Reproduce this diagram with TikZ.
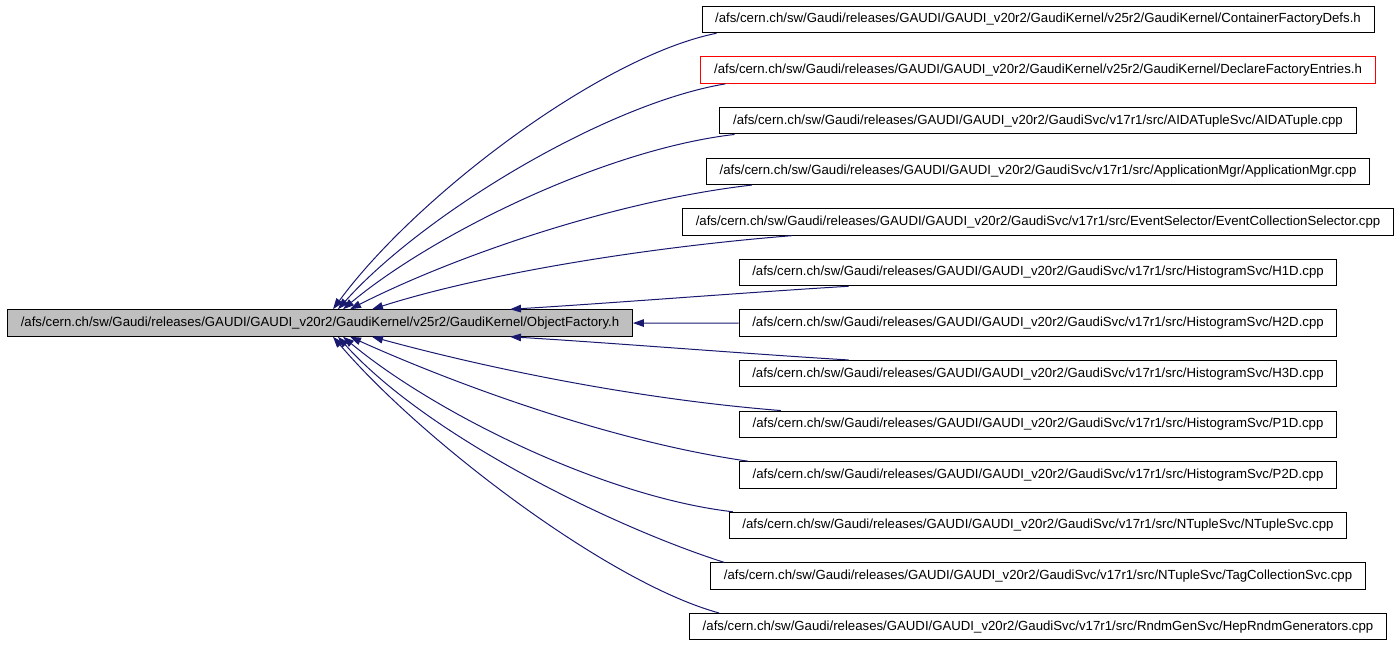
\documentclass[tikz,border=0pt]{standalone}
\usepackage{fontspec}
\setmainfont{Liberation Sans}
\usetikzlibrary{arrows.meta,calc}
\definecolor{depblue}{HTML}{191970}
\begin{document}
\begin{tikzpicture}
  [x=0.5pt,y=-0.5pt,every node/.style={draw,line width=0.5pt,inner xsep=6.6pt,inner ysep=0pt,minimum height=13.25pt,font=\fontsize{6.6}{8}\selectfont},
   dep/.style={depblue,line width=0.5pt,-{Triangle[length=5.5pt,width=3.8pt]}}]
  \useasboundingbox (0,0) rectangle (1400,645);
  \node (main)[fill=black!25] at (320,323) {/afs/cern.ch/sw/Gaudi/releases/GAUDI/GAUDI\_v20r2/GaudiKernel/v25r2/GaudiKernel/ObjectFactory.h};
  \node (b1) at (1038,19.5) {/afs/cern.ch/sw/Gaudi/releases/GAUDI/GAUDI\_v20r2/GaudiKernel/v25r2/GaudiKernel/ContainerFactoryDefs.h};
  \node (b2)[draw=red] at (1038,70.1) {/afs/cern.ch/sw/Gaudi/releases/GAUDI/GAUDI\_v20r2/GaudiKernel/v25r2/GaudiKernel/DeclareFactoryEntries.h};
  \node (b3) at (1038,120.7) {/afs/cern.ch/sw/Gaudi/releases/GAUDI/GAUDI\_v20r2/GaudiSvc/v17r1/src/AIDATupleSvc/AIDATuple.cpp};
  \node (b4) at (1038,171.3) {/afs/cern.ch/sw/Gaudi/releases/GAUDI/GAUDI\_v20r2/GaudiSvc/v17r1/src/ApplicationMgr/ApplicationMgr.cpp};
  \node (b5) at (1038,221.9) {/afs/cern.ch/sw/Gaudi/releases/GAUDI/GAUDI\_v20r2/GaudiSvc/v17r1/src/EventSelector/EventCollectionSelector.cpp};
  \node (b6) at (1038,272.5) {/afs/cern.ch/sw/Gaudi/releases/GAUDI/GAUDI\_v20r2/GaudiSvc/v17r1/src/HistogramSvc/H1D.cpp};
  \node (b7) at (1038,323.1) {/afs/cern.ch/sw/Gaudi/releases/GAUDI/GAUDI\_v20r2/GaudiSvc/v17r1/src/HistogramSvc/H2D.cpp};
  \node (b8) at (1038,373.7) {/afs/cern.ch/sw/Gaudi/releases/GAUDI/GAUDI\_v20r2/GaudiSvc/v17r1/src/HistogramSvc/H3D.cpp};
  \node (b9) at (1038,424.3) {/afs/cern.ch/sw/Gaudi/releases/GAUDI/GAUDI\_v20r2/GaudiSvc/v17r1/src/HistogramSvc/P1D.cpp};
  \node (b10) at (1038,474.9) {/afs/cern.ch/sw/Gaudi/releases/GAUDI/GAUDI\_v20r2/GaudiSvc/v17r1/src/HistogramSvc/P2D.cpp};
  \node (b11) at (1038,525.5) {/afs/cern.ch/sw/Gaudi/releases/GAUDI/GAUDI\_v20r2/GaudiSvc/v17r1/src/NTupleSvc/NTupleSvc.cpp};
  \node (b12) at (1038,576.1) {/afs/cern.ch/sw/Gaudi/releases/GAUDI/GAUDI\_v20r2/GaudiSvc/v17r1/src/NTupleSvc/TagCollectionSvc.cpp};
  \node (b13) at (1038,626.7) {/afs/cern.ch/sw/Gaudi/releases/GAUDI/GAUDI\_v20r2/GaudiSvc/v17r1/src/RndmGenSvc/HepRndmGenerators.cpp};

  \foreach \from/\fa/\fx/\ta/\tx/\ca/\cb in {b1/south west/15/north/13/{-115,23}/{84,-114},
      b2/south west/25/north/18/{-120,20}/{85,-95},b3/south west/15/north/23/{-130,15}/{90,-75},
      b4/south west/46/north/30/{-140,16}/{100,-51},b5/south west/110/north/52/{-150,12}/{110,-35},
      b6/south west/110/north/190/{-100,6}/{100,-6},b8/north west/110/south/190/{-100,-6}/{100,6},
      b9/north west/42/south/52/{-150,-12}/{110,30},b10/north west/9/south/30/{-140,-20}/{100,45},
      b11/north west/4/south/23/{-130,-15}/{90,75},b12/north west/14/south/18/{-110,-35}/{90,100},
      b13/north west/30/south/13/{-110,-30}/{90,105}}
    \draw[dep] ($(\from.\fa)+(\fx,0)$) .. controls +(\ca) and +(\cb) .. ($(main.\ta)+(\tx,0)$);
  \draw[dep] (b7) -- (main);
\end{tikzpicture}
\end{document}
